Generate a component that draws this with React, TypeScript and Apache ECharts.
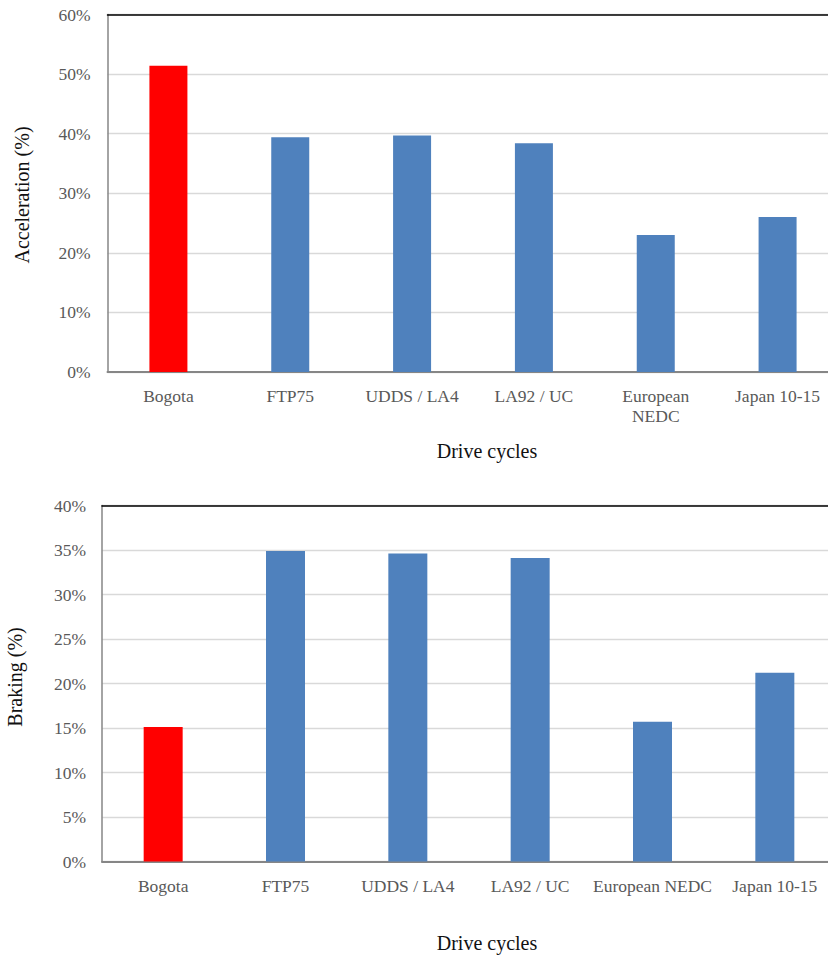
import React, { useEffect, useRef } from "react";
import * as echarts from "echarts";

// Drive cycles compared in both panels
const categories = ["Bogota", "FTP75", "UDDS / LA4", "LA92 / UC", "European NEDC", "Japan 10-15"];
// Share of time spent accelerating (%)
const accelerationPct = [51.4, 39.4, 39.7, 38.4, 23.0, 26.0];
// Share of time spent braking (%)
const brakingPct = [15.1, 34.9, 34.6, 34.1, 15.7, 21.2];
// Bogota is the highlighted cycle
const highlighted = ["Bogota"];

const accelTicks = { min: 0, max: 60, interval: 10 };
const brakeTicks = { min: 0, max: 40, interval: 5 };

const SERIF = "'Liberation Serif', 'Times New Roman', serif";
const RED = "#FF0000";
const BLUE = "#4F81BD";

// the chart canvas is a little wider than the visible frame, so the plot
// areas run off its right edge
const FRAME_W = 828;
const FRAME_H = 956;
const CANVAS_W = 842;

function barData(values: number[]) {
  return values.map((v, i) => ({
    value: v,
    itemStyle: { color: highlighted.includes(categories[i]) ? RED : BLUE },
  }));
}

function xAxisFor(gridIndex: number, wrapNedc: boolean) {
  return {
    type: "category",
    gridIndex,
    data: categories,
    axisLine: { lineStyle: { color: "#868686", width: 2 } },
    axisTick: { show: false },
    axisLabel: {
      color: "#595959",
      fontFamily: SERIF,
      fontSize: 17.5,
      margin: 14,
      lineHeight: 20,
      interval: 0,
      formatter: (v: string) => (wrapNedc && v === "European NEDC" ? "European\nNEDC" : v),
    },
  };
}

function topBorderAxis(gridIndex: number) {
  return {
    type: "category",
    gridIndex,
    position: "top",
    data: categories,
    axisLine: { lineStyle: { color: "#000", width: 1.5 } },
    axisTick: { show: false },
    axisLabel: { show: false },
  };
}

function yAxisFor(gridIndex: number, ticks: { min: number; max: number; interval: number }, margin: number) {
  return {
    type: "value",
    gridIndex,
    min: ticks.min,
    max: ticks.max,
    interval: ticks.interval,
    axisLine: { show: true, lineStyle: { color: "#868686", width: 1.5 } },
    axisTick: { show: false },
    splitLine: { lineStyle: { color: "#d9d9d9", width: 1.3 } },
    axisLabel: {
      color: "#595959",
      fontFamily: SERIF,
      fontSize: 17.5,
      margin,
      formatter: "{value}%",
    },
  };
}

function titleText(text: string, x: number, y: number, vertical: boolean) {
  return {
    type: "text",
    x,
    y,
    rotation: vertical ? Math.PI / 2 : 0,
    style: {
      text,
      fill: "#111",
      font: `20px ${SERIF}`,
      textAlign: "center",
      textVerticalAlign: "middle",
    },
  };
}

export default function App() {
  const ref = useRef<HTMLDivElement>(null);

  useEffect(() => {
    if (!ref.current) return;
    const chart = echarts.init(ref.current, null, { renderer: "svg" });
    chart.setOption({
      animation: false,
      backgroundColor: "#fff",
      grid: [
        { left: 107.5, top: 14.5, width: 731, height: 357.5 },
        { left: 102, top: 505.5, width: 734, height: 356 },
      ],
      xAxis: [xAxisFor(0, true), xAxisFor(1, false), topBorderAxis(0), topBorderAxis(1)],
      yAxis: [yAxisFor(0, accelTicks, 17), yAxisFor(1, brakeTicks, 16)],
      series: [
        {
          type: "bar",
          xAxisIndex: 0,
          yAxisIndex: 0,
          barWidth: 38,
          data: barData(accelerationPct),
        },
        {
          type: "bar",
          xAxisIndex: 1,
          yAxisIndex: 1,
          barWidth: 39,
          data: barData(brakingPct),
        },
      ],
      graphic: [
        titleText("Acceleration (%)", 22, 195, true),
        titleText("Drive cycles", 487, 451, false),
        titleText("Braking (%)", 15, 677, true),
        titleText("Drive cycles", 487, 943, false),
      ],
    });
    return () => chart.dispose();
  }, []);

  return (
    <div
      style={{
        position: "fixed",
        left: 0,
        top: 0,
        width: FRAME_W,
        height: FRAME_H,
        overflow: "hidden",
        background: "#fff",
      }}
    >
      <div ref={ref} style={{ width: CANVAS_W, height: FRAME_H }} />
    </div>
  );
}
